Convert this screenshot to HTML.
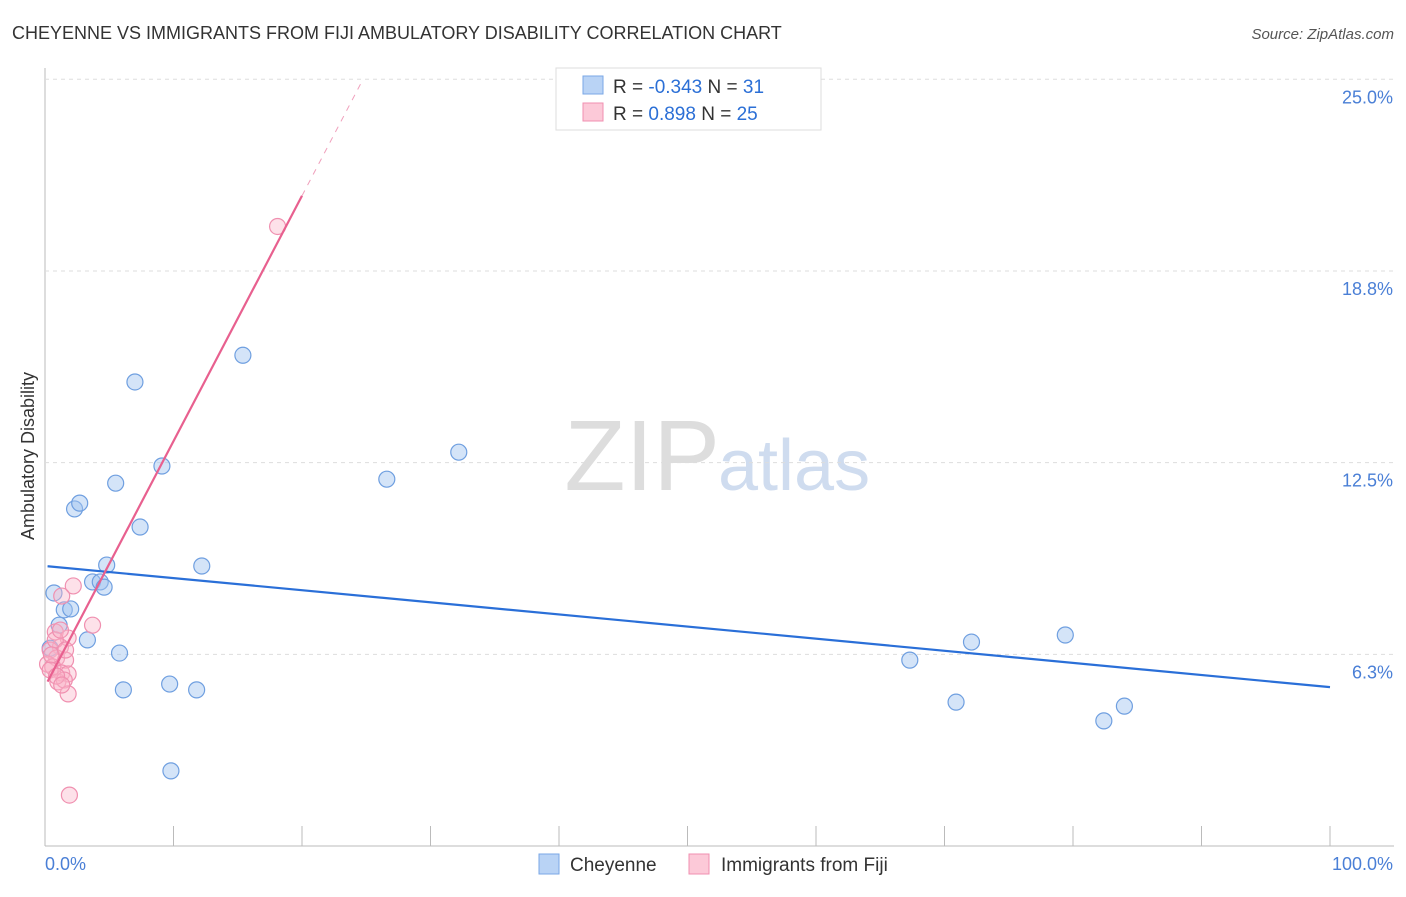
<!DOCTYPE html>
<html><head><meta charset="utf-8"><style>
body{margin:0;background:#fff;font-family:"Liberation Sans",sans-serif;}
svg text{font-family:"Liberation Sans",sans-serif;}
</style></head><body>
<svg id="c" width="1406" height="892">
<text x="12" y="39" font-size="18" fill="#333">CHEYENNE VS IMMIGRANTS FROM FIJI AMBULATORY DISABILITY CORRELATION CHART</text>
<text x="1394" y="39" font-size="15" fill="#555" text-anchor="end" font-style="italic">Source: ZipAtlas.com</text>
<text x="720" y="490" font-size="100" fill="#ddd" text-anchor="end" font-family="Liberation Serif">ZIP</text>
<text x="718" y="490" font-size="72" fill="#cfdcef">atlas</text>
<text transform="translate(34,456) rotate(-90)" font-size="18" fill="#333" text-anchor="middle">Ambulatory Disability</text>
<g id="grid"></g><g id="marks"></g>
<g>
<rect x="556" y="68" width="265" height="62" fill="#fff" stroke="#ddd"/>
<rect x="583" y="76" width="20" height="18" fill="#b9d3f5" stroke="#7aa7e6"/>
<rect x="583" y="103" width="20" height="18" fill="#fcc9d8" stroke="#f08fb0"/>
<text x="613" y="93" font-size="19" fill="#333">R = <tspan fill="#2b6fd6">-0.343</tspan>   N = <tspan fill="#2b6fd6">31</tspan></text>
<text x="613" y="120" font-size="19" fill="#333">R =  <tspan fill="#2b6fd6"> 0.898</tspan>   N = <tspan fill="#2b6fd6">25</tspan></text>
</g>
<g>
<rect x="539" y="854" width="20" height="20" fill="#b9d3f5" stroke="#7aa7e6"/>
<text x="570" y="871" font-size="19" fill="#333">Cheyenne</text>
<rect x="689" y="854" width="20" height="20" fill="#fcc9d8" stroke="#f08fb0"/>
<text x="721" y="871" font-size="19" fill="#333">Immigrants from Fiji</text>
</g>
</svg>
<script>
const yTicks=[6.25,12.5,18.75,25];
const yTickLabels=["6.3%","12.5%","18.8%","25.0%"];
const blueX=[0.7,1.1,1.5,2.0,2.3,2.7,3.3,3.7,4.3,4.6,4.8,5.5,5.8,6.1,7.0,7.4,9.1,9.7,9.8,11.8,12.2,15.4,26.6,32.2,67.3,70.9,72.1,79.4,82.4,84.0,0.4];
const blueY=[8.25,7.2,7.7,7.73,10.99,11.18,6.72,8.61,8.61,8.44,9.16,11.83,6.29,5.09,15.13,10.4,12.39,5.28,2.45,5.09,9.13,16.0,11.96,12.84,6.06,4.69,6.65,6.88,4.08,4.56,6.45];
const pinkX=[2.2,1.3,3.7,0.8,1.8,1.2,0.4,0.9,1.6,0.2,0.6,1.3,1.8,0.4,1.0,1.5,1.8,1.9,18.1,0.8,1.2,0.5,1.6,0.9,1.3];
const pinkY=[8.48,8.15,7.2,6.98,6.78,6.49,6.39,6.13,6.06,5.93,5.84,5.64,5.61,5.74,5.35,5.41,4.96,1.66,20.2,6.72,7.04,6.23,6.39,5.54,5.25];
const blueLine=[9.13,5.18];
const pinkLine=[5.2,0.8];
const X=v=>45+v*12.85, Y=v=>846-v*30.67;
const NS="http://www.w3.org/2000/svg";
const g=document.getElementById('grid'), m=document.getElementById('marks');
function mk(p,t,a){const e=document.createElementNS(NS,t);for(const k in a)e.setAttribute(k,a[k]);p.appendChild(e);return e;}
let ax=mk(g,'line',{x1:45,y1:68,x2:45,y2:846,stroke:'#bbb'});


let bx=mk(g,'line',{x1:45,y1:846,x2:1394,y2:846,stroke:'#bbb'});


yTicks.forEach((t,i)=>{
 let l=mk(g,'line',{x1:45,x2:1394,y1:Y(t),y2:Y(t),stroke:'#ddd','stroke-dasharray':'4,4'});
 
 
 let tx=mk(g,'text',{x:1393,y:Y(t)+24,'font-size':18,fill:'#4a7fd6','text-anchor':'end'});
 tx.textContent=yTickLabels[i];
 
 
});
for(let i=0;i<=10;i++){
 let l=mk(g,'line',{x1:X(i*10),x2:X(i*10),y1:826,y2:846,stroke:'#bbb'});
 
 
}
[["0.0%",45,'start'],["100.0%",1393,'end']].forEach(d=>{
 let t=mk(g,'text',{x:d[1],y:870,'font-size':18,fill:'#4a7fd6','text-anchor':d[2]});
 t.textContent=d[0];
 
 
});
blueX.forEach((x,i)=>{
 let c=mk(m,'circle',{cx:X(x),cy:Y(blueY[i]),r:8,fill:'rgba(160,195,240,0.45)',stroke:'#6f9fe0','stroke-width':1.2});
 
 
});
pinkX.forEach((x,i)=>{
 let c=mk(m,'circle',{cx:X(x),cy:Y(pinkY[i]),r:8,fill:'rgba(250,180,200,0.4)',stroke:'#f090b0','stroke-width':1.2});
 
 
});
let bl=mk(m,'line',{x1:X(0.2),y1:Y(blueLine[0]+(blueLine[1]-blueLine[0])*0.002),x2:X(100),y2:Y(blueLine[1]),stroke:'#2a6fd8','stroke-width':2.2});


const pEnd=20, pMax=(25-pinkLine[0])/pinkLine[1];
let pl=mk(m,'line',{x1:X(0.2),y1:Y(pinkLine[0]+0.2*pinkLine[1]),x2:X(pEnd),y2:Y(pinkLine[0]+pEnd*pinkLine[1]),stroke:'#e8608f','stroke-width':2.2});


let pd=mk(m,'line',{x1:X(pEnd),y1:Y(pinkLine[0]+pEnd*pinkLine[1]),x2:X(pMax),y2:Y(25),stroke:'#f0a0bc','stroke-width':1,'stroke-dasharray':'6,6'});


</script>
</body></html>
